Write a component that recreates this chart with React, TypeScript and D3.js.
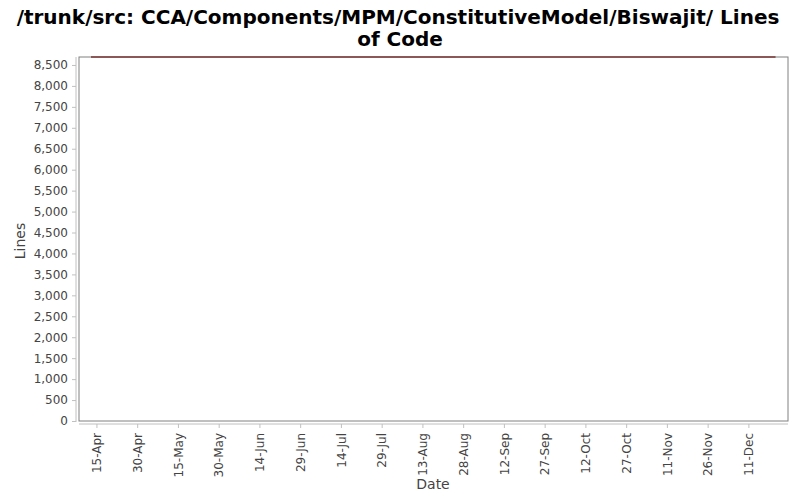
import { useEffect, useRef } from 'react';
import * as d3 from 'd3';

// lines of code over time (flat series)
const dates = ['2007-04-13', '2007-06-01', '2007-08-01', '2007-10-01', '2007-12-21'];
const lines = [8690, 8690, 8690, 8690, 8690];

const yTicks = d3.range(0, 8501, 500);
const xTickLabels = ['15-Apr', '30-Apr', '15-May', '30-May', '14-Jun', '29-Jun', '14-Jul', '29-Jul',
    '13-Aug', '28-Aug', '12-Sep', '27-Sep', '12-Oct', '27-Oct', '11-Nov', '26-Nov', '11-Dec'];

const title1 = '/trunk/src: CCA/Components/MPM/ConstitutiveModel/Biswajit/ Lines';
const title2 = 'of Code';

const App = () => {
    const svgRef = useRef<SVGSVGElement | null>(null);

    useEffect(() => {
        if (!svgRef.current) return;
        const svg = d3.select(svgRef.current);
        svg.selectAll('*').remove();

        const width = 800;
        const height = 500;
        const plot = { left: 79, right: 788, top: 57, bottom: 421 };

        const parse = d3.timeParse('%Y-%m-%d');
        const data = dates.map((d, i) => ({ date: parse(d) as Date, value: lines[i] }));

        const x = d3.scaleTime()
            .domain([new Date(2007, 3, 8, 14), new Date(2007, 11, 25, 14)])
            .range([plot.left, plot.right]);
        const y = d3.scaleLinear()
            .domain([0, 8690])
            .range([plot.bottom, plot.top]);

        svg.append('rect').attr('width', width).attr('height', height).attr('fill', '#fff');

        // title
        const title = svg.append('text')
            .attr('text-anchor', 'middle')
            .attr('font-family', 'DejaVu Sans')
            .attr('font-weight', 'bold')
            .attr('font-size', 20)
            .attr('fill', '#000');
        title.append('tspan').attr('x', width / 2 - 2).attr('y', 24).text(title1);
        title.append('tspan').attr('x', width / 2).attr('y', 46).text(title2);

        // plot background + border
        svg.append('rect')
            .attr('x', plot.left).attr('y', plot.top)
            .attr('width', plot.right - plot.left).attr('height', plot.bottom - plot.top)
            .attr('fill', '#fff').attr('stroke', '#808080').attr('stroke-width', 1);

        // y axis
        const yAxis = svg.append('g')
            .attr('transform', `translate(76,0)`)
            .call(d3.axisLeft(y).tickValues(yTicks).tickSize(4).tickPadding(4).tickFormat(d3.format(',')));
        yAxis.select('.domain').attr('stroke', '#c0c0c0').attr('d', `M0,${plot.top}V${plot.bottom + 1}`);
        yAxis.selectAll('.tick line').attr('stroke', '#c0c0c0');
        yAxis.selectAll('.tick text')
            .attr('font-family', 'DejaVu Sans').attr('font-size', 12).attr('fill', '#444');

        // x axis
        const tickDates = xTickLabels.map(l => d3.timeParse('%d-%b-%Y')(`${l}-2007`) as Date);
        const xAxis = svg.append('g')
            .attr('transform', `translate(0,424)`)
            .call(d3.axisBottom(x).tickValues(tickDates).tickSize(4).tickFormat((d, i) => xTickLabels[i]));
        xAxis.select('.domain').attr('stroke', '#c0c0c0').attr('d', `M${plot.left},0H${plot.right}`);
        xAxis.selectAll('.tick line').attr('stroke', '#c0c0c0');
        xAxis.selectAll('.tick text')
            .attr('font-family', 'DejaVu Sans').attr('font-size', 12).attr('fill', '#444')
            .attr('transform', 'rotate(-90)')
            .attr('text-anchor', 'end')
            .attr('x', -9).attr('y', 0).attr('dy', '0.35em');

        // axis labels
        svg.append('text')
            .attr('x', 433).attr('y', 489)
            .attr('text-anchor', 'middle')
            .attr('font-family', 'DejaVu Sans').attr('font-size', 14).attr('fill', '#444')
            .text('Date');
        svg.append('text')
            .attr('transform', `translate(25,241) rotate(-90)`)
            .attr('text-anchor', 'middle')
            .attr('font-family', 'DejaVu Sans').attr('font-size', 14).attr('fill', '#444')
            .text('Lines');

        // series
        const line = d3.line<{ date: Date; value: number }>()
            .x(d => x(d.date))
            .y(d => y(d.value));
        svg.append('path')
            .datum(data)
            .attr('fill', 'none')
            .attr('stroke', '#7a3535')
            .attr('stroke-width', 1.5)
            .attr('d', line);
    }, []);

    return <svg ref={svgRef} width="800" height="500" style={{ display: 'block', margin: -8 }}></svg>;
};

export default App;
